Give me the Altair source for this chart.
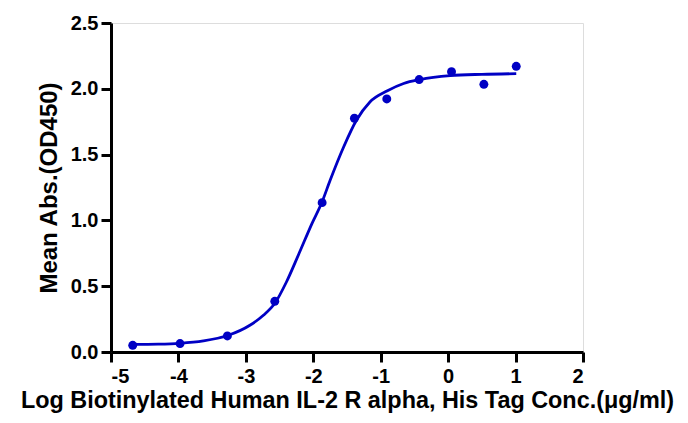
import altair as alt
import pandas as pd

# Measured points
log_conc = [-4.678, -3.976, -3.274, -2.571, -1.869, -1.39, -0.91, -0.43, 0.05, 0.53, 1.01]
mean_abs = [0.051, 0.064, 0.122, 0.385, 1.135, 1.776, 1.923, 2.07, 2.13, 2.034, 2.171]

# Fitted curve
curve_x = [-4.68, -4.3, -3.98, -3.63, -3.27, -2.94, -2.74, -2.57, -2.4, -2.21, -2.02,
           -1.87, -1.75, -1.55, -1.36, -1.16, -0.9, -0.66, -0.42, 0.03, 0.5, 1.01]
curve_y = [0.058, 0.06, 0.066, 0.084, 0.125, 0.203, 0.279, 0.37, 0.53, 0.75, 0.976,
           1.14, 1.305, 1.558, 1.761, 1.9, 1.985, 2.04, 2.07, 2.10, 2.11, 2.115]

x_ticks = [-5, -4, -3, -2, -1, 0, 1, 2]
y_ticks = [0.0, 0.5, 1.0, 1.5, 2.0, 2.5]

pts = pd.DataFrame({"x": log_conc, "y": mean_abs})
crv = pd.DataFrame({"x": curve_x, "y": curve_y})

BLUE = "#0000C4"
FONT = "Liberation Sans"

xs = alt.Scale(domain=[-5, 2], nice=False, zero=False)
ys = alt.Scale(domain=[0, 2.5], nice=False)

xaxis = alt.Axis(values=x_ticks, labelExpr="'' + datum.value",
                 title="Log Biotinylated Human IL-2 R alpha, His Tag Conc.(μg/ml)",
                 grid=False, domainColor="black", domainWidth=3, tickColor="black",
                 tickWidth=3, tickSize=10, labelFont=FONT, labelFontSize=20,
                 labelFontWeight="bold", labelColor="black", labelPadding=4,
                 titleFont=FONT, titleFontSize=23.4, titleFontWeight="bold",
                 titleColor="black", titlePadding=3)
yaxis = alt.Axis(values=y_ticks, format=".1f", title="Mean Abs.(OD450)",
                 grid=False, domainColor="black", domainWidth=3, tickColor="black",
                 tickWidth=3, tickSize=10, labelFont=FONT, labelFontSize=20,
                 labelFontWeight="bold", labelColor="black", labelPadding=3,
                 titleFont=FONT, titleFontSize=24, titleFontWeight="bold",
                 titleColor="black", titlePadding=9)

line = alt.Chart(crv).mark_line(color=BLUE, strokeWidth=2.8, interpolate="monotone").encode(
    x=alt.X("x:Q", scale=xs, axis=xaxis),
    y=alt.Y("y:Q", scale=ys, axis=yaxis),
)
dots = alt.Chart(pts).mark_circle(color=BLUE, opacity=1, size=80).encode(
    x=alt.X("x:Q", scale=xs),
    y=alt.Y("y:Q", scale=ys),
)

chart = (line + dots).properties(
    width=472, height=329,
    autosize=alt.AutoSizeParams(type="none"),
    padding={"left": 103, "top": 15, "right": 96, "bottom": 63},
).configure_view(stroke=None).configure(background="white")

chart.save("out.html", embed_options={"renderer": "svg", "actions": False})
